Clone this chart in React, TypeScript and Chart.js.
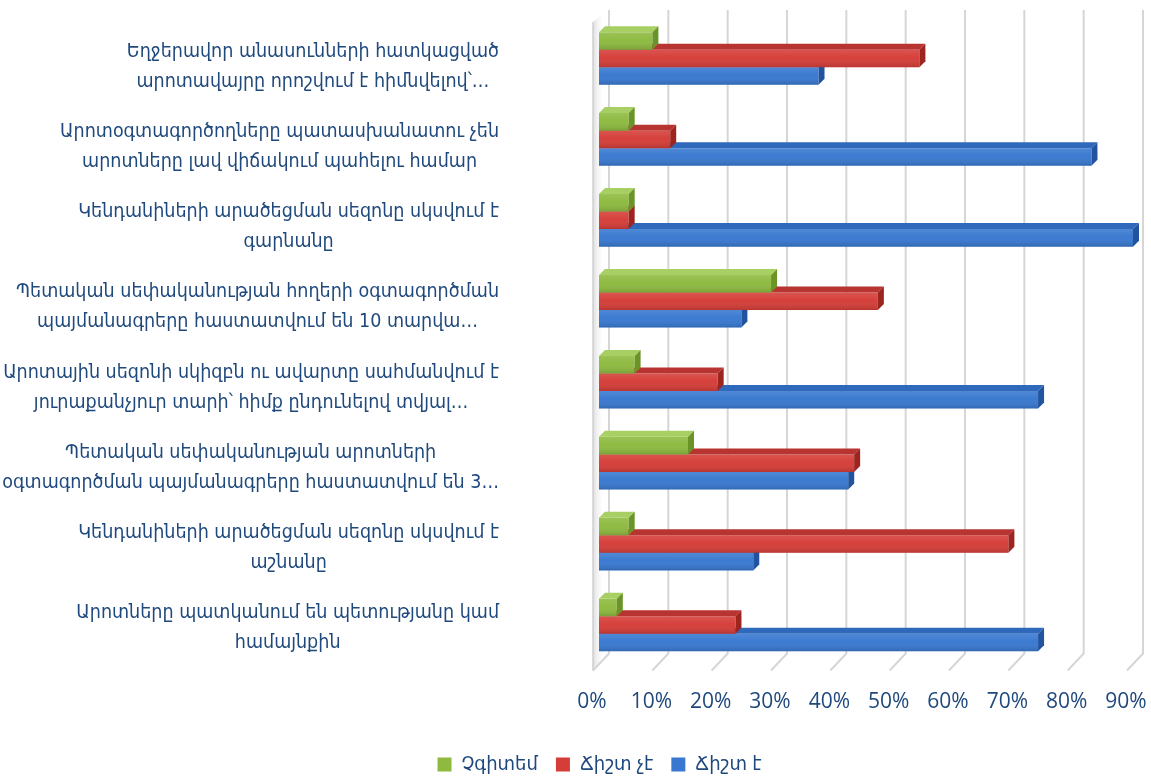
import React, { useEffect, useRef } from 'react';
import { Chart, registerables } from 'chart.js';

Chart.register(...registerables);

// ---- Data (top-to-bottom order as shown) ----
const categories: string[][] = [
  ['Եղջերավոր անասունների հատկացված', 'արոտավայրը որոշվում է հիմնվելով՝…'],
  ['Արոտօգտագործողները պատասխանատու չեն', 'արոտները լավ վիճակում պահելու համար'],
  ['Կենդանիների արածեցման սեզոնը սկսվում է', 'գարնանը'],
  ['Պետական սեփականության հողերի օգտագործման', 'պայմանագրերը հաստատվում են 10 տարվա…'],
  ['Արոտային սեզոնի սկիզբն ու ավարտը սահմանվում է', 'յուրաքանչյուր տարի՝ հիմք ընդունելով տվյալ…'],
  ['Պետական սեփականության արոտների', 'օգտագործման պայմանագրերը հաստատվում են 3…'],
  ['Կենդանիների արածեցման սեզոնը սկսվում է', 'աշնանը'],
  ['Արոտները պատկանում են պետությանը կամ', 'համայնքին'],
];

const seriesNames = ['Չգիտեմ', 'Ճիշտ չէ', 'Ճիշտ է'];
const dontKnow = [9, 5, 5, 29, 6, 15, 5, 3];
const notTrue = [54, 12, 5, 47, 20, 43, 69, 23];
const isTrue = [37, 83, 90, 24, 74, 42, 26, 74];

const xMin = 0;
const xMax = 90;
const xStep = 10;

// ---- Styles ----
const TEXT = '#1F497D';
const FONT_FAMILY = "'Open Sans', 'DejaVu Sans Condensed', 'DejaVu Sans', sans-serif";
const LABEL_FAMILY = "'DejaVu Sans Condensed', 'DejaVu Sans', sans-serif";
const frontColors = ['#8DBA3F', '#D53D38', '#3878D0'];
const topColors = ['#A8CF63', '#B83430', '#2F69BC'];
const sideColors = ['#6A9427', '#9E2420', '#22539F'];
const DEPTH = 6;

const gridPlugin = {
  id: 'wallGrid',
  beforeDatasetsDraw(chart: any) {
    const { ctx, chartArea } = chart;
    const xs = chart.scales.x;
    const wallTop = chartArea.top - 8;
    const floorBack = chartArea.bottom - 12;
    const floorFront = chartArea.bottom + 5;
    ctx.save();
    const lx = xs.getPixelForValue(xMin);
    const g = ctx.createLinearGradient(lx - 6, 0, lx + 4, 0);
    g.addColorStop(0, 'rgba(190,190,190,0.5)');
    g.addColorStop(1, 'rgba(230,230,230,0)');
    ctx.fillStyle = g;
    ctx.beginPath();
    ctx.moveTo(lx - 6, chartArea.top + 4);
    ctx.lineTo(lx + 9, wallTop);
    ctx.lineTo(lx + 9, floorBack);
    ctx.lineTo(lx - 6, floorFront);
    ctx.closePath();
    ctx.fill();
    ctx.strokeStyle = '#CFCFCF';
    ctx.lineWidth = 1.5;
    ctx.beginPath();
    ctx.moveTo(lx - 6, chartArea.top + 4);
    ctx.lineTo(lx - 6, floorFront);
    ctx.stroke();
    ctx.lineWidth = 2;
    ctx.strokeStyle = '#D6D6D6';
    xs.ticks.forEach((t: any) => {
      const xf = xs.getPixelForValue(t.value);
      ctx.beginPath();
      ctx.moveTo(xf + 10, wallTop);
      ctx.lineTo(xf + 10, floorBack);
      ctx.lineTo(xf - 6, floorFront);
      ctx.stroke();
    });
    ctx.restore();
  },
};

const bar3dPlugin = {
  id: 'bar3d',
  afterDatasetDraw(chart: any, args: any) {
    const { ctx } = chart;
    const i = args.index;
    ctx.save();
    args.meta.data.forEach((el: any) => {
      const { x, y, base, height } = el.getProps(['x', 'y', 'base', 'height'], true);
      const top = y - height / 2;
      const bottom = y + height / 2;
      ctx.fillStyle = topColors[i];
      ctx.beginPath();
      ctx.moveTo(base, top);
      ctx.lineTo(base + DEPTH, top - DEPTH);
      ctx.lineTo(x + DEPTH, top - DEPTH);
      ctx.lineTo(x, top);
      ctx.closePath();
      ctx.fill();
      ctx.fillStyle = sideColors[i];
      ctx.beginPath();
      ctx.moveTo(x, top);
      ctx.lineTo(x + DEPTH, top - DEPTH);
      ctx.lineTo(x + DEPTH, bottom - DEPTH);
      ctx.lineTo(x, bottom);
      ctx.closePath();
      ctx.fill();
      const gr = ctx.createLinearGradient(0, top, 0, bottom);
      gr.addColorStop(0, 'rgba(255,255,255,0.12)');
      gr.addColorStop(0.45, 'rgba(255,255,255,0.02)');
      gr.addColorStop(1, 'rgba(0,0,0,0.14)');
      ctx.fillStyle = gr;
      ctx.fillRect(base, top, x - base, height);
    });
    ctx.restore();
  },
};

const labelPlugin = {
  id: 'catLabels',
  afterDraw(chart: any) {
    const { ctx } = chart;
    const ys = chart.scales.y;
    ctx.save();
    ctx.font = `19.5px ${LABEL_FAMILY}`;
    ctx.fillStyle = TEXT;
    ctx.textAlign = 'center';
    ctx.textBaseline = 'middle';
    const right = 499;
    const lineH = 30;
    categories.forEach((lines, i) => {
      const yc = ys.getPixelForValue(i) + 8.5 - i * 0.8;
      const w = Math.max(...lines.map((l) => ctx.measureText(l).width));
      const cx = right - w / 2;
      lines.forEach((l, j) => {
        ctx.fillText(l, cx, yc + (j - (lines.length - 1) / 2) * lineH);
      });
    });
    ctx.restore();
  },
};

export default function App() {
  const ref = useRef<HTMLCanvasElement>(null);
  useEffect(() => {
    const chart = new Chart(ref.current!, {
      type: 'bar',
      data: {
        labels: categories.map((c) => c.join(' ')),
        datasets: [
          { label: seriesNames[0], data: dontKnow, backgroundColor: frontColors[0], borderWidth: 0 },
          { label: seriesNames[1], data: notTrue, backgroundColor: frontColors[1], borderWidth: 0 },
          { label: seriesNames[2], data: isTrue, backgroundColor: frontColors[2], borderWidth: 0 },
        ],
      },
      options: {
        indexAxis: 'y',
        responsive: true,
        maintainAspectRatio: false,
        animation: false,
        datasets: { bar: { categoryPercentage: 0.65, barPercentage: 1.0 } },
        layout: { padding: { top: 18, right: 18, left: 66, bottom: -5.5 } },
        scales: {
          x: {
            min: xMin,
            max: xMax,
            grid: { display: false, drawTicks: false },
            border: { display: false },
            ticks: {
              stepSize: xStep,
              padding: 24,
              labelOffset: -7,
              color: TEXT,
              font: { size: 21, family: FONT_FAMILY },
              callback: (v: any) => `${v}%`,
            },
            afterFit: (s: any) => {
              s.height = 71;
              s.paddingLeft = 0;
              s.paddingRight = 0;
            },
          },
          y: {
            grid: { display: false, drawTicks: false },
            border: { display: false },
            ticks: { display: false },
            afterFit: (s: any) => {
              s.width = 599 - 66;
            },
          },
        },
        plugins: {
          legend: {
            position: 'bottom',
            labels: {
              color: TEXT,
              font: { size: 20, family: FONT_FAMILY },
              boxWidth: 14,
              boxHeight: 14,
              padding: 18,
            },
          },
          tooltip: { enabled: false },
        },
      },
      plugins: [gridPlugin, bar3dPlugin, labelPlugin],
    });
    return () => chart.destroy();
  }, []);
  return (
    <div style={{ position: 'absolute', left: 0, top: 0, width: '1151px', height: '779px' }}>
      <canvas ref={ref} />
    </div>
  );
}
